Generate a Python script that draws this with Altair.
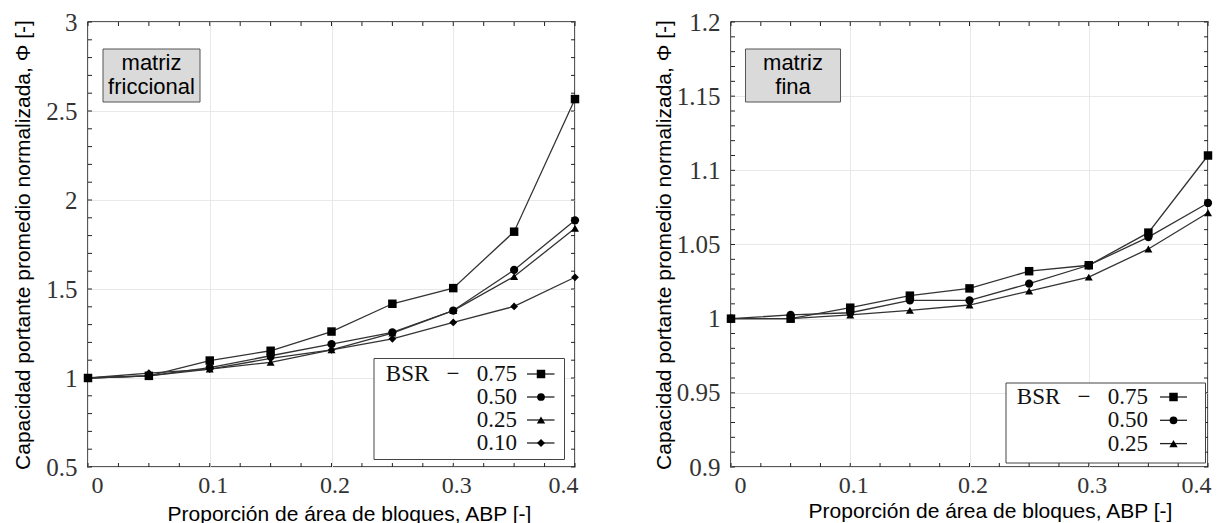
import altair as alt
import pandas as pd

# ---------------- data ----------------
abp = [0.0, 0.05, 0.10, 0.15, 0.20, 0.25, 0.30, 0.35, 0.40]

fric_075 = [1.0, 1.012, 1.098, 1.153, 1.261, 1.417, 1.505, 1.822, 2.567]
fric_050 = [1.0, 1.012, 1.058, 1.125, 1.190, 1.256, 1.379, 1.607, 1.886]
fric_025 = [1.0, 1.012, 1.050, 1.088, 1.158, 1.252, 1.379, 1.570, 1.841]
fric_010 = [1.0, 1.027, 1.050, 1.110, 1.158, 1.220, 1.312, 1.402, 1.566]

fina_075 = [1.0, 1.0, 1.0074, 1.0155, 1.0204, 1.032, 1.036, 1.058, 1.110]
fina_050 = [1.0, 1.0025, 1.004, 1.0123, 1.0123, 1.0236, 1.036, 1.055, 1.078]
fina_025 = [1.0, 1.0, 1.0025, 1.0056, 1.0092, 1.0186, 1.028, 1.047, 1.0714]

bsr_fric = ["0.75", "0.50", "0.25", "0.10"]
bsr_fina = ["0.75", "0.50", "0.25"]
legend_fric = ["BSR\u00a0\u00a0\u00a0\u2212\u00a0\u00a0 0.75", "0.50", "0.25", "0.10"]
legend_fina = ["BSR\u00a0\u00a0\u00a0\u2212\u00a0\u00a0 0.75", "0.50", "0.25"]
shapes = ["square", "circle", "triangle-up", "diamond"]
sizes = [72, 60, 70, 64]

x_major = [0, 0.1, 0.2, 0.3, 0.4]
x_minor = [round(0.025 * i, 3) for i in range(17)]
fric_major = [0.5, 1, 1.5, 2, 2.5, 3]
fric_minor = [round(0.5 + 0.1 * i, 2) for i in range(26)]
fina_major = [0.9, 0.95, 1, 1.05, 1.1, 1.15, 1.2]
fina_minor = [round(0.9 + 0.01 * i, 2) for i in range(31)]

X_TITLE = "Proporción de área de bloques, ABP [-]"
Y_TITLE = "Capacidad portante promedio normalizada, \u03a6 [-]"

SERIF = "Liberation Serif"
SANS = "Liberation Sans"
H = 445


def panel(series_vals, series, legend_labels, ydom, ymajor, yminor, W,
          box_lines, box, box_cx, leg, xtx, xty, ytx):
    rows = []
    for s, vals in zip(series, series_vals):
        for a, v in zip(abp, vals):
            rows.append({"abp": a, "phi": v, "bsr": s})
    df = pd.DataFrame(rows)

    xenc = alt.X(
        "abp:Q",
        scale=alt.Scale(domain=[0, 0.4], nice=False, zero=False),
        axis=alt.Axis(
            values=x_major, format="~g", grid=True, gridColor="#e8e8e8",
            ticks=False, domain=False, labelFont=SERIF, labelFontSize=24,
            labelColor="#333", labelPadding=6, labelOffset=3,
            title=X_TITLE, titleFont=SANS, titleFontSize=21,
            titleFontWeight="normal", titleColor="black", titleX=xtx,
            titleY=xty, titleAlign="center", titleBaseline="alphabetic",
        ),
    )
    yenc = alt.Y(
        "phi:Q",
        scale=alt.Scale(domain=ydom, nice=False, zero=False),
        axis=alt.Axis(
            values=ymajor, format="~g", grid=True, gridColor="#e8e8e8",
            ticks=False, domain=False, labelFont=SERIF, labelFontSize=25,
            labelColor="#333", labelPadding=11,
            title=Y_TITLE, titleFont=SANS, titleFontSize=21,
            titleFontWeight="normal", titleColor="black", titleAngle=-90,
            titleX=ytx, titleY=H / 2, titleAlign="center",
            titleBaseline="alphabetic",
        ),
    )

    n = len(series)
    lines = alt.Chart(df).mark_line(color="#333", strokeWidth=1.3).encode(
        x=xenc, y=yenc, detail="bsr:N")
    pts = alt.Chart(df).mark_point(filled=True, color="black", opacity=1).encode(
        x=xenc, y=yenc,
        shape=alt.Shape("bsr:N", scale=alt.Scale(domain=series, range=shapes[:n]), legend=None),
        size=alt.Size("bsr:N", scale=alt.Scale(domain=series, range=sizes[:n]), legend=None),
    )

    xt = pd.DataFrame({"abp": x_minor})
    yt = pd.DataFrame({"phi": yminor})
    tk = dict(color="#222", strokeWidth=1)
    tb = alt.Chart(xt).mark_rule(**tk).encode(x=xenc, y=alt.value(H), y2=alt.value(H - 4))
    tt = alt.Chart(xt).mark_rule(**tk).encode(x=xenc, y=alt.value(0), y2=alt.value(4))
    tl = alt.Chart(yt).mark_rule(**tk).encode(y=yenc, x=alt.value(0), x2=alt.value(4))
    tr = alt.Chart(yt).mark_rule(**tk).encode(y=yenc, x=alt.value(W - 4), x2=alt.value(W))

    one = pd.DataFrame({"k": [0]})
    layers = [tb, tt, tl, tr, lines, pts]

    bx0, bx1, by0, by1 = box
    layers.append(alt.Chart(one).mark_rect(fill="#dadada", stroke="#555", strokeWidth=1).encode(
        x=alt.value(bx0), x2=alt.value(bx1), y=alt.value(by0), y2=alt.value(by1)))
    for line, yb in zip(box_lines, [47.5, 71.5]):
        layers.append(alt.Chart(one).mark_text(font=SANS, fontSize=22, align="center",
                                               baseline="alphabetic", color="black").encode(
            x=alt.value(box_cx), y=alt.value(yb), text=alt.value(line)))

    lx0, lx1, ly0, ly1, txr, row0, dy, sx0, sx1, mx = leg
    layers.append(alt.Chart(one).mark_rect(fill="white", stroke="#444", strokeWidth=1).encode(
        x=alt.value(lx0), x2=alt.value(lx1), y=alt.value(ly0), y2=alt.value(ly1)))
    for i, lab in enumerate(legend_labels):
        yy = row0 + i * dy
        layers.append(alt.Chart(one).mark_text(font=SERIF, fontSize=23, align="right",
                                               baseline="middle", color="#111").encode(
            x=alt.value(txr), y=alt.value(yy), text=alt.value(lab)))
        layers.append(alt.Chart(one).mark_rule(color="#222", strokeWidth=1.3).encode(
            x=alt.value(sx0), x2=alt.value(sx1), y=alt.value(yy)))
        layers.append(alt.Chart(one).mark_point(shape=shapes[i], size=sizes[i], filled=True,
                                                color="black", opacity=1).encode(
            x=alt.value(mx), y=alt.value(yy)))

    return alt.layer(*layers).properties(width=W, height=H)


left = panel(
    [fric_075, fric_050, fric_025, fric_010], bsr_fric, legend_fric,
    [0.5, 3], fric_major, fric_minor, 487,
    ["matriz", "friccional"], (15, 112, 27, 80), 63.5,
    (286, 476.5, 336.5, 437.5, 429, 352, 23, 439, 466.5, 453),
    261, 53, -58.5,
)
right = panel(
    [fina_075, fina_050, fina_025], bsr_fina, legend_fina,
    [0.9, 1.2], fina_major, fina_minor, 477,
    ["matriz", "fina"], (14.5, 109.5, 27, 80), 62,
    (275, 474.5, 361, 441, 417, 375, 23.3, 429, 456, 442.5),
    259, 50, -60.5,
)

chart = alt.hconcat(left, right, spacing=156, bounds="flush").properties(
    padding={"left": 3, "top": 1, "right": 0, "bottom": 0}
).configure_view(stroke="#222", strokeWidth=1.5)

chart.save("out.html", embed_options={"renderer": "svg", "actions": False})
